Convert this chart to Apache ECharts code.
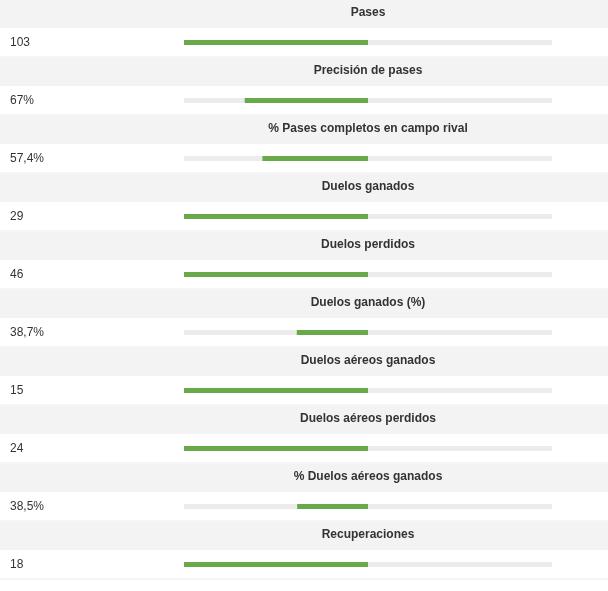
<!DOCTYPE html>
<html>
<head>
<meta charset="utf-8">
<script src="https://cdn.jsdelivr.net/npm/echarts@6/dist/echarts.min.js"></script>
<style>
html,body{margin:0;padding:0;background:#fff;}
#chart{width:608px;height:591px;}
</style>
</head>
<body>
<div id="chart"></div>
<script>
const metrics = ["Pases","Precisión de pases","% Pases completos en campo rival","Duelos ganados","Duelos perdidos","Duelos ganados (%)","Duelos aéreos ganados","Duelos aéreos perdidos","% Duelos aéreos ganados","Recuperaciones"];
const valueLabels = ["103","67%","57,4%","29","46","38,7%","15","24","38,5%","18"];
const barShare = [100, 67, 57.4, 100, 100, 38.7, 100, 100, 38.5, 100];

const PITCH = 58, TITLE_H = 28, ROW_H = 29, LEFT = 184, RIGHT = 56;
const chart = echarts.init(document.getElementById('chart'), null, {renderer:'canvas'});
const grid = [], xAxis = [], yAxis = [], series = [], graphic = [];
metrics.forEach((m, i) => {
  const top = i * PITCH;
  graphic.push({type:'rect', shape:{x:0, y:top, width:608, height:TITLE_H}, style:{fill:'#f3f3f3'}, silent:true, z:-10});
  graphic.push({type:'line', shape:{x1:0, y1:top + TITLE_H + ROW_H, x2:608, y2:top + TITLE_H + ROW_H}, style:{stroke:'#ebebeb', lineWidth:1}, silent:true, z:-9});
  grid.push({left:LEFT, right:RIGHT, top:top + TITLE_H, height:ROW_H});
  xAxis.push({gridIndex:i, type:'value', min:0, max:2, inverse:true, position:'top',
    name:m, nameLocation:'middle', nameGap:9,
    nameTextStyle:{color:'#333', fontSize:12, fontWeight:'bold', fontFamily:'Liberation Sans, Arial, sans-serif'},
    axisLine:{show:false}, axisTick:{show:false}, axisLabel:{show:false}, splitLine:{show:false}});
  yAxis.push({gridIndex:i, type:'category', data:[valueLabels[i]],
    axisLine:{show:false, onZero:false}, axisTick:{show:false}, splitLine:{show:false},
    axisLabel:{align:'left', margin:174, color:'#333', fontSize:12, fontFamily:'Liberation Sans, Arial, sans-serif'}});
  series.push({type:'bar', xAxisIndex:i, yAxisIndex:i, stack:'s'+i, data:[1], barWidth:5,
    itemStyle:{color:'rgba(0,0,0,0)'}, showBackground:true, backgroundStyle:{color:'#ececec'}, silent:true});
  series.push({type:'bar', xAxisIndex:i, yAxisIndex:i, stack:'s'+i, data:[barShare[i]/100], barWidth:5,
    itemStyle:{color:'#68a94a'}, silent:true});
});
chart.setOption({animation:false, backgroundColor:'#fff', grid, xAxis, yAxis, series, graphic});
</script>
</body>
</html>
